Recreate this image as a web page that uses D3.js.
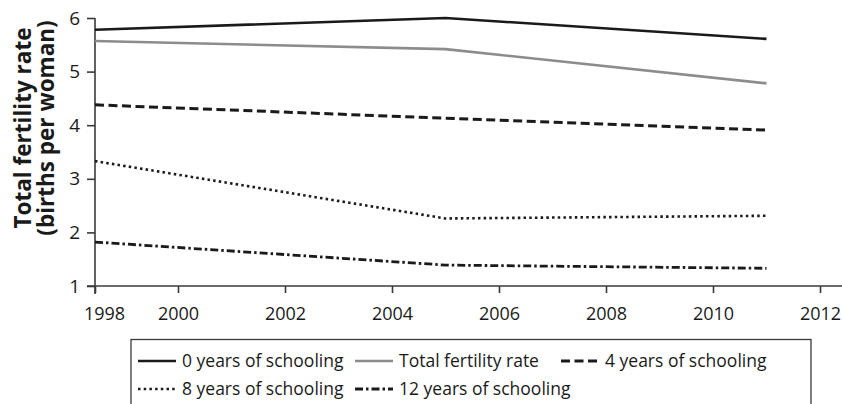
<!DOCTYPE html>
<html><head><meta charset="utf-8">
<script src="https://cdn.jsdelivr.net/npm/d3@7/dist/d3.min.js"></script>
<style>
html,body{margin:0;padding:0;background:#fff;}
svg{display:block;font-family:"Open Sans",sans-serif;}
</style></head>
<body>
<svg id="chart" width="842" height="404"></svg>
<script>
const years = [1998, 2005, 2011];
const seriesNames = ["0 years of schooling","Total fertility rate","4 years of schooling","8 years of schooling","12 years of schooling"];
const zeroYears   = [5.78, 6.00, 5.61];
const totalTFR    = [5.57, 5.42, 4.78];
const fourYears   = [4.38, 4.13, 3.91];
const eightYears  = [3.33, 2.26, 2.31];
const twelveYears = [1.82, 1.39, 1.33];
const xTicks = [1998, 2000, 2002, 2004, 2006, 2008, 2010, 2012];
const yTicks = [1, 2, 3, 4, 5, 6];

const seriesValues = [zeroYears, totalTFR, fourYears, eightYears, twelveYears];
const styles = [
  {color:"#1a1a1a", width:2.6, dash:null},
  {color:"#8c8c8c", width:2.6, dash:null},
  {color:"#1a1a1a", width:3, dash:"9,4.5"},
  {color:"#1a1a1a", width:2.6, dash:"2.5,3.2"},
  {color:"#1a1a1a", width:2.8, dash:"8,3,2.5,3"}
];

const svg = d3.select("#chart");
const x = d3.scaleLinear().domain([1998, 2000, 2012]).range([95, 178, 820]);
const y = d3.scaleLinear().domain([1, 6]).range([286, 18]);
const axisColor = "#3a3a3a";

// y axis
const yAxis = svg.append("g").attr("transform","translate(95,0)")
  .call(d3.axisLeft(y).tickValues(yTicks).tickFormat(d3.format("d")).tickSize(8).tickSizeOuter(0).tickPadding(7));
yAxis.select(".domain").remove();
yAxis.append("line").attr("x1",0).attr("x2",0).attr("y1",y(6)).attr("y2",294).attr("stroke",axisColor).attr("stroke-width",1.6);
yAxis.selectAll(".tick line").attr("stroke",axisColor).attr("stroke-width",1.6);
yAxis.selectAll(".tick text").attr("fill","#1a1a1a").style("font-size","19px").style("font-family","Open Sans");

// x axis
const xAxis = svg.append("g").attr("transform","translate(0,286)")
  .call(d3.axisBottom(x).tickValues(xTicks).tickFormat(d3.format("d")).tickSize(7).tickSizeOuter(0).tickPadding(14));
xAxis.select(".domain").remove();
xAxis.append("line").attr("x1",87).attr("x2",842).attr("y1",0).attr("y2",0).attr("stroke",axisColor).attr("stroke-width",1.6);
xAxis.selectAll(".tick line").attr("stroke",axisColor).attr("stroke-width",1.6);
xAxis.selectAll(".tick text").attr("fill","#1a1a1a").style("font-size","18px").style("font-family","Open Sans");
xAxis.selectAll(".tick").filter(d=>d===1998).select("text").attr("dx",9);

// y title
const yt = svg.append("text").attr("transform","translate(31,128) rotate(-90)")
  .attr("text-anchor","middle").style("font-weight","bold").style("font-size","22.5px").attr("fill","#1a1a1a");
yt.append("tspan").attr("x",0).attr("y",0).text("Total fertility rate");
yt.append("tspan").attr("x",0).attr("y",23).text("(births per woman)");

// lines
const line = d3.line().x((d,i)=>x(years[i])).y(d=>y(d));
seriesValues.forEach((vals,k)=>{
  const s = styles[k];
  svg.append("path").datum(vals).attr("d",line).attr("fill","none")
    .attr("stroke",s.color).attr("stroke-width",s.width)
    .attr("stroke-dasharray",s.dash).attr("stroke-linejoin","round");
});

// legend
svg.append("rect").attr("x",131).attr("y",339.5).attr("width",680).attr("height",80)
  .attr("fill","none").attr("stroke",axisColor).attr("stroke-width",1.3);
const legendPos = [[138,361],[355,361],[561,361],[138,389],[355,389]];
seriesNames.forEach((name,k)=>{
  const [lx,ly] = legendPos[k]; const s = styles[k];
  svg.append("line").attr("x1",lx).attr("x2",lx+38).attr("y1",ly).attr("y2",ly)
    .attr("stroke",s.color).attr("stroke-width",s.width).attr("stroke-dasharray",s.dash);
  svg.append("text").attr("x",lx+44).attr("y",ly).attr("dy","0.35em")
    .style("font-size","17.5px").attr("fill","#1a1a1a").text(name);
});
</script>
</body></html>
